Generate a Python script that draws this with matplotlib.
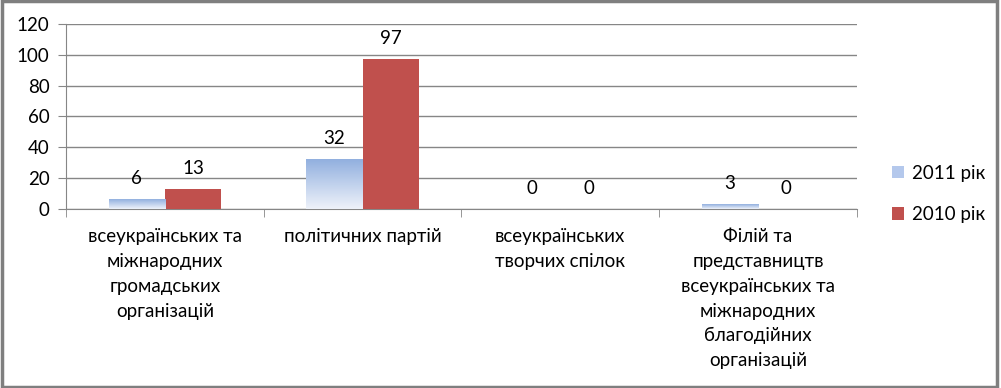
import numpy as np
import matplotlib.pyplot as plt
from matplotlib.patches import Rectangle, Patch
from matplotlib.colors import LinearSegmentedColormap

plt.rcParams['font.family'] = ['Lato', 'DejaVu Sans']

categories = ['всеукраїнських та\nміжнародних\nгромадських\nорганізацій',
              'політичних партій',
              'всеукраїнських\nтворчих спілок',
              'Філій та\nпредставництв\nвсеукраїнських та\nміжнародних\nблагодійних\nорганізацій']
values_2011 = [6, 32, 0, 3]
values_2010 = [13, 97, 0, 0]
series_names = ['2011 рік', '2010 рік']
yticks = [0, 20, 40, 60, 80, 100, 120]

grid_col = '#868686'
red = '#C0504D'
blue_grad = LinearSegmentedColormap.from_list('bg', ['#EEF2FA', '#92B0DF'])
fs = 13.5

fig = plt.figure(figsize=(10.01, 3.88), dpi=100)
ax = fig.add_axes([0.066, 0.4613, 0.79, 0.477])

x = np.arange(len(categories))
w = 0.285
b1 = ax.bar(x - w / 2, values_2011, w, color='none', edgecolor='none', zorder=3)
b2 = ax.bar(x + w / 2, values_2010, w, color=red, edgecolor='none', zorder=3)

# вертикальний градієнт для синіх стовпців
grad = np.linspace(0, 1, 100).reshape(-1, 1)
for r in b1:
    x0, y0, bw, bh = r.get_x(), r.get_y(), r.get_width(), r.get_height()
    if bh > 0:
        ax.imshow(grad, extent=(x0, x0 + bw, y0, y0 + bh), origin='lower',
                  cmap=blue_grad, aspect='auto', zorder=3)

for bars, vals in [(b1, values_2011), (b2, values_2010)]:
    for r, v in zip(bars, vals):
        ax.annotate(str(v), (r.get_x() + r.get_width() / 2, r.get_height()),
                    xytext=(0, 15), textcoords='offset points',
                    ha='center', va='center', fontsize=fs)

ax.set_xlim(-0.5, len(categories) - 0.5)
ax.set_ylim(0, 120)
ax.set_yticks(yticks)
ax.yaxis.grid(True, color=grid_col, linewidth=1)
ax.set_axisbelow(True)
ax.tick_params(axis='y', length=6, color=grid_col, labelsize=fs, pad=6)

ax.set_xticks(x)
ax.set_xticklabels(categories, fontsize=fs, linespacing=1.55, va='top')
ax.tick_params(axis='x', which='major', length=0, pad=14)
ax.set_xticks(np.arange(-0.5, len(categories)), minor=True)
ax.tick_params(axis='x', which='minor', length=6, color=grid_col)

for s in ['top', 'right']:
    ax.spines[s].set_visible(False)
for s in ['left', 'bottom']:
    ax.spines[s].set_color(grid_col)

handles = [Patch(facecolor='#B4C8EC'), Patch(facecolor=red)]
fig.legend(handles, series_names, loc='center left', bbox_to_anchor=(0.874, 0.5),
           frameon=False, fontsize=fs, handlelength=0.65, handleheight=0.65,
           handletextpad=0.45, labelspacing=1.3)

# рамка навколо діаграми
fig.patches.append(Rectangle((0.002, 0.003), 0.994, 0.994, transform=fig.transFigure,
                             fill=False, edgecolor='#7F7F7F', linewidth=2.5))

fig.savefig('out.png', dpi=100)
